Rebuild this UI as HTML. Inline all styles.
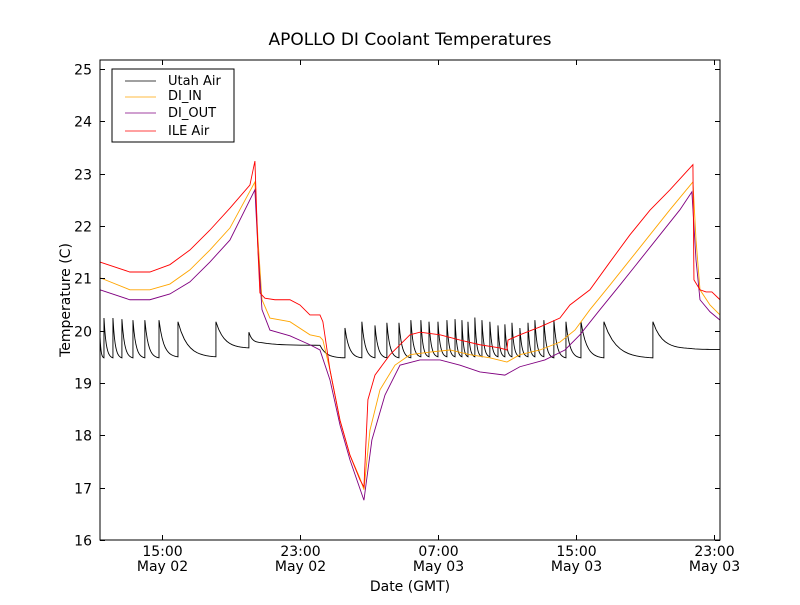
<!DOCTYPE html>
<html><head><meta charset="utf-8"><style>
body{margin:0;background:#fff}
svg text{font-family:"DejaVu Sans","Liberation Sans",sans-serif;fill:#000}
</style></head><body>
<svg id="chart" width="800" height="600" xmlns="http://www.w3.org/2000/svg">
<rect width="800" height="600" fill="#fff"/>
<text x="410" y="45" font-size="17" text-anchor="middle">APOLLO DI Coolant Temperatures</text>
<g id="series"></g>
<rect x="100" y="60" width="620" height="480" fill="none" stroke="#000" stroke-width="1"/>
<g id="axes"></g>
<text x="410" y="591" font-size="14" text-anchor="middle">Date (GMT)</text>
<text transform="translate(70,300) rotate(-90)" font-size="14" text-anchor="middle">Temperature (C)</text>
<g>
<rect x="112" y="69" width="122" height="73" fill="#fff" stroke="#000" stroke-width="1"/>
<g><line x1="125" y1="81" x2="156" y2="81" stroke="#000" stroke-width="0.8"/><text x="168" y="85" font-size="13">Utah Air</text></g>
<g><line x1="125" y1="97" x2="156" y2="97" stroke="#ffa500" stroke-width="0.8"/><text x="168" y="100" font-size="13">DI_IN</text></g>
<g><line x1="125" y1="113" x2="156" y2="113" stroke="#800080" stroke-width="0.8"/><text x="168" y="117" font-size="13">DI_OUT</text></g>
<g><line x1="125" y1="131" x2="156" y2="131" stroke="#ff0000" stroke-width="0.8"/><text x="168" y="135" font-size="13">ILE Air</text></g>
</g>
</svg>
<script>
// hours since 00:00 May 02 (GMT)
const xTickHours = [15, 23, 31, 39, 47];
const xTickTimes = ["15:00", "23:00", "07:00", "15:00", "23:00"];
const xTickDates = ["May 02", "May 02", "May 03", "May 03", "May 03"];
const yTicks = [16, 17, 18, 19, 20, 21, 22, 23, 24, 25];

const ileTimes = [11.41,13.14,14.30,15.46,16.62,17.78,18.94,20.10,20.39,20.57,20.68,20.97,21.55,22.42,23.0,23.58,24.16,24.33,24.74,25.32,25.90,26.48,26.71,26.94,27.35,28.22,29.38,29.96,31.12,32.28,33.43,34.59,35.0,35.06,35.75,36.91,38.07,38.65,39.81,40.97,42.13,43.29,44.45,45.78,45.84,46.19,46.54,46.88,47.35];
const ileValues = [21.31,21.12,21.12,21.26,21.54,21.92,22.34,22.78,23.24,21.5,20.72,20.62,20.59,20.59,20.49,20.30,20.30,20.17,19.25,18.29,17.62,17.15,17.01,18.68,19.15,19.54,19.92,19.97,19.92,19.82,19.73,19.67,19.63,19.82,19.92,20.07,20.24,20.49,20.78,21.31,21.83,22.30,22.69,23.17,20.97,20.78,20.74,20.74,20.59];

const inTimes = [11.41,13.14,14.30,15.46,16.62,17.78,18.94,20.39,20.57,20.80,21.26,22.42,23.58,24.16,24.33,24.74,25.32,25.90,26.48,26.71,27.06,27.64,28.51,29.38,30.54,31.70,32.86,34.01,35.0,35.75,36.91,38.07,38.94,39.81,40.97,42.13,43.29,44.45,45.78,45.96,46.19,46.77,47.35];
const inValues = [21.01,20.78,20.78,20.89,21.16,21.54,21.96,22.84,21.73,20.59,20.24,20.17,19.92,19.88,19.82,19.25,18.29,17.62,17.18,16.96,18.10,18.87,19.34,19.54,19.59,19.63,19.54,19.48,19.40,19.54,19.63,19.78,20.01,20.40,20.87,21.35,21.83,22.31,22.84,21.73,20.78,20.49,20.30];

const outTimes = [11.41,13.14,14.30,15.46,16.62,17.78,18.94,20.39,20.57,20.80,21.26,22.42,23.58,24.16,24.74,25.32,25.90,26.71,27.17,27.93,28.80,29.96,31.12,32.28,33.43,34.88,35.75,37.20,38.36,39.23,40.39,41.55,42.71,43.87,45.03,45.72,45.96,46.19,46.77,47.35];
const outValues = [20.78,20.59,20.59,20.70,20.93,21.31,21.73,22.69,21.54,20.40,20.01,19.90,19.73,19.63,19.06,18.20,17.53,16.76,17.91,18.77,19.34,19.44,19.44,19.34,19.21,19.15,19.31,19.44,19.63,19.92,20.40,20.87,21.35,21.83,22.31,22.65,21.35,20.59,20.36,20.20];

const utahTimes = [11.41,11.64,12.16,12.68,13.32,14.01,14.83,15.93,18.13,20.04,20.80,24.16,25.61,26.59,27.35,28.04,28.74,29.43,30.01,30.48,31.0,31.52,31.99,32.39,32.74,33.14,33.55,34.01,34.48,34.88,35.29,35.75,36.22,36.62,37.14,37.72,38.42,39.29,40.62,43.46,45.61,47.35];
const utahLow  = [19.90,19.48,19.48,19.48,19.48,19.48,19.48,19.50,19.50,19.67,19.77,19.72,19.48,19.48,19.48,19.48,19.48,19.48,19.50,19.50,19.50,19.50,19.50,19.50,19.50,19.50,19.50,19.50,19.50,19.50,19.50,19.50,19.50,19.50,19.50,19.48,19.48,19.48,19.48,19.48,19.66,19.64];
const utahHigh = [19.90,20.24,20.24,20.22,20.20,20.20,20.20,20.17,20.17,19.97,19.77,19.72,20.05,20.17,20.10,20.15,20.15,20.20,20.20,20.17,20.17,20.20,20.22,20.20,20.17,20.25,20.20,20.17,20.10,20.12,20.15,20.05,20.15,20.20,20.20,20.20,20.17,20.17,20.17,20.17,19.66,19.64];

const X0 = 11.41, X1 = 47.35, Y0 = 16, Y1 = 25.17;
const PL = 100, PR = 720, PT = 60, PB = 540;
function xs(h){ return PL + (h - X0) / (X1 - X0) * (PR - PL); }
function ys(v){ return PB - (v - Y0) / (Y1 - Y0) * (PB - PT); }
const NS = "http://www.w3.org/2000/svg";
const series = document.getElementById('series');
const axes = document.getElementById('axes');

function addPath(pts, color, name){
  const p = document.createElementNS(NS, 'path');
  p.setAttribute('d', 'M' + pts.map(q => q[0].toFixed(2) + ',' + q[1].toFixed(2)).join('L'));
  p.setAttribute('fill', 'none');
  p.setAttribute('stroke', color);
  p.setAttribute('stroke-width', '0.9');
  
  
  series.appendChild(p);
}

// Utah Air: jumps followed by decay toward next trough
const uPts = [];
for (let i = 0; i < utahTimes.length; i++) {
  uPts.push([xs(utahTimes[i]), ys(utahLow[i])]);
  uPts.push([xs(utahTimes[i]), ys(utahHigh[i])]);
  if (i + 1 < utahTimes.length) {
    const t0 = utahTimes[i], t1 = utahTimes[i+1];
    const hi = utahHigh[i], lo = utahLow[i+1];
    const k = 12;
    for (let j = 1; j <= k; j++) {
      const s = j / k;
      const w = (Math.exp(-4 * s) - Math.exp(-4)) / (1 - Math.exp(-4));
      uPts.push([xs(t0 + (t1 - t0) * s), ys(lo + (hi - lo) * w)]);
    }
  }
}
addPath(uPts, '#000000', 'utah-air-line');
addPath(inTimes.map((t, i) => [xs(t), ys(inValues[i])]), '#ffa500', 'di-in-line');
addPath(outTimes.map((t, i) => [xs(t), ys(outValues[i])]), '#800080', 'di-out-line');
addPath(ileTimes.map((t, i) => [xs(t), ys(ileValues[i])]), '#ff0000', 'ile-air-line');

function addLine(x1, y1, x2, y2, name){
  const l = document.createElementNS(NS, 'line');
  l.setAttribute('x1', x1); l.setAttribute('y1', y1);
  l.setAttribute('x2', x2); l.setAttribute('y2', y2);
  l.setAttribute('stroke', '#000'); l.setAttribute('stroke-width', '1');
  
  
  axes.appendChild(l);
}
function addText(x, y, str, anchor, name){
  const t = document.createElementNS(NS, 'text');
  t.setAttribute('x', x); t.setAttribute('y', y);
  t.setAttribute('font-size', '14');
  t.setAttribute('text-anchor', anchor);
  t.textContent = str;
  
  
  axes.appendChild(t);
}
yTicks.forEach(v => {
  const y = Math.round(ys(v)) + 0.5;
  addLine(PL, y, PL + 5, y, 'y-tick');
  addLine(PR, y, PR - 5, y, 'y-tick-right');
  addText(92, y + 5, String(v), 'end', 'y-tick-label');
});
xTickHours.forEach((h, i) => {
  const x = Math.round(xs(h)) + 0.5;
  addLine(x, PB, x, PB - 5, 'x-tick');
  addLine(x, PT, x, PT + 5, 'x-tick-top');
  addText(x, 556, xTickTimes[i], 'middle', 'x-tick-time-label');
  addText(x, 571, xTickDates[i], 'middle', 'x-tick-date-label');
});
</script>
</body></html>
